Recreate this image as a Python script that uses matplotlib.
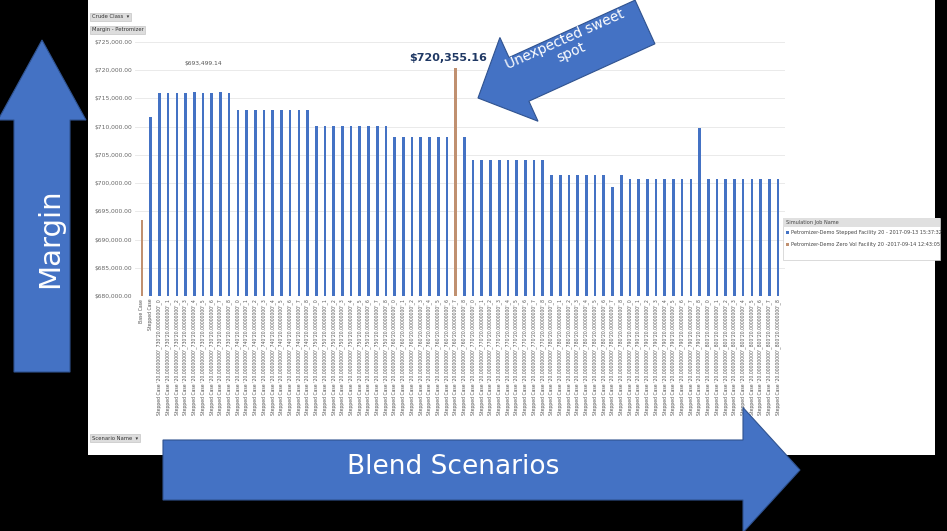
import matplotlib
matplotlib.use("Agg")
import matplotlib.pyplot as plt
import matplotlib.patches as mp
import numpy as np

categories = ["Base Case", "Stepped Case"] + [
    f"Stepped Case '20.00000000'_{a}'20.00000000'_{b}" for a in range(730, 810, 10) for b in range(9)]
g730 = [716000, 716000, 716000, 716000, 716100, 716000, 716000, 716100, 716000]
g740 = [713000] * 9
g750 = [710200] * 9
g760 = [708200, 708200, 708200, 708200, 708200, 708200, 708200, np.nan, 708200]
g770 = [704100] * 9
g780 = [701500, 701500, 701500, 701500, 701500, 701500, 701500, 699300, 701500]
g790 = [700700] * 8 + [709700]
g800 = [700700] * 9
stepped = [np.nan, 711800] + g730 + g740 + g750 + g760 + g770 + g780 + g790 + g800
zerovol = [693499.14, np.nan] + [np.nan] * 34 + [720355.16] + [np.nan] * 37
series_names = ["Petromizer-Demo Stepped Facility 20 - 2017-09-13 15:37:32",
                "Petromizer-Demo Zero Vol Facility 20 -2017-09-14 12:43:05"]
yticks = np.arange(680000, 725001, 5000)

W, H = 947, 531
fig = plt.figure(figsize=(W / 100, H / 100), dpi=100, facecolor="black")
panel = fig.add_axes([88 / W, (531 - 455) / H, (935 - 88) / W, 455 / H])
panel.set_facecolor("white"); panel.set_xticks([]); panel.set_yticks([])
for s in panel.spines.values(): s.set_visible(False)

ax = fig.add_axes([135 / W, (531 - 296) / H, 650 / W, 254 / H])
x = np.arange(len(categories))
blue, orange = "#4472C4", "#C09070"
ax.bar(x, np.array(stepped) - 680000, bottom=680000, width=0.3, color=blue)
ax.bar(x, np.array(zerovol) - 680000, bottom=680000, width=0.3, color=orange)
ax.set_ylim(680000, 725000)
ax.set_xlim(-0.8, len(categories) - 0.2)
ax.set_yticks(yticks)
ax.set_yticklabels([f"${v:,.2f}" for v in yticks], fontsize=4.3, color="#666666")
ax.set_xticks(x)
ax.set_xticklabels(categories, rotation=90, fontsize=3.3, color="#555555")
ax.tick_params(length=0, pad=2)
ax.grid(axis="y", color="#e6e6e6", lw=0.6)
ax.set_axisbelow(True)
for s in ax.spines.values(): s.set_visible(False)

ov = fig.add_axes([0, 0, 1, 1]); ov.set_xlim(0, W); ov.set_ylim(H, 0); ov.axis("off")
ov.patch.set_alpha(0)
ov.text(203, 64, "$693,499.14", fontsize=4.3, color="#555555", ha="center", va="center")
ov.text(448, 58, "$720,355.16", fontsize=8, color="#1F3864", weight="bold", ha="center", va="center")
for yy, t in [(17, "Crude Class  ▾"), (30, "Margin - Petromizer"), (438, "Scenario Name  ▾")]:
    ov.text(92, yy, t, fontsize=3.8, color="#333333", va="center",
            bbox=dict(boxstyle="square,pad=0.3", fc="#dddddd", ec="#bbbbbb", lw=0.4))
ov.add_patch(mp.Rectangle((783, 218), 157, 42, fc="white", ec="#cccccc", lw=0.5))
ov.add_patch(mp.Rectangle((783, 218), 157, 9, fc="#e0e0e0", ec="none"))
ov.text(786, 222.5, "Simulation Job Name", fontsize=3.6, color="#444444", va="center")
for i, (nm, c) in enumerate(zip(series_names, [blue, orange])):
    ov.add_patch(mp.Rectangle((786, 231 + i * 12), 3, 3, fc=c, ec="none"))
    ov.text(791, 232.5 + i * 12, nm, fontsize=3.6, color="#444444", va="center")

ac = "#4472C4"
ov.add_patch(mp.FancyArrow(42, 372, 0, -332, width=56, head_width=88, head_length=80,
                           length_includes_head=True, fc=ac, ec="#2F528F", lw=0.8))
ov.text(50, 238, "Margin", rotation=90, color="white", fontsize=21, ha="center", va="center")
ov.add_patch(mp.FancyArrow(163, 470, 637, 0, width=60, head_width=125, head_length=57,
                           length_includes_head=True, fc=ac, ec="#2F528F", lw=0.8))
ov.text(453, 467, "Blend Scenarios", color="white", fontsize=19, ha="center", va="center")
ov.add_patch(mp.FancyArrow(645, 22, -167, 76, width=48, head_width=92, head_length=45,
                           length_includes_head=True, fc=ac, ec="#2F528F", lw=0.8))
ov.text(568, 46, "Unexpected sweet\nspot", color="white", fontsize=10, rotation=24,
        ha="center", va="center", linespacing=1.1)

fig.savefig("out.png", dpi=100, facecolor="black")
